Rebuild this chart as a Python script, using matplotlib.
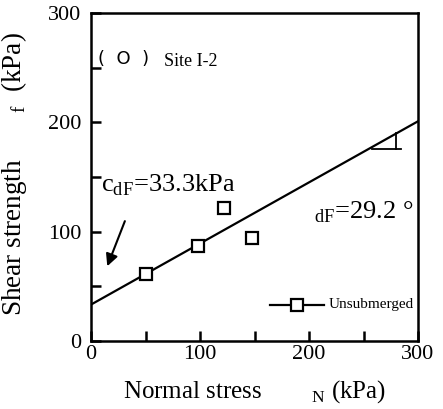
import numpy as np
import matplotlib
matplotlib.use("Agg")
import matplotlib.pyplot as plt
from matplotlib.ticker import MultipleLocator

plt.rcParams['font.family'] = ['Liberation Serif', 'DejaVu Serif']
plt.rcParams['mathtext.fontset'] = 'custom'
plt.rcParams['mathtext.rm'] = 'Liberation Serif'

# data
normal_stress = [50, 98, 122, 148]
shear_strength = [61, 87, 122, 94]
cohesion = 33.3
friction_angle = 29.2
fit_x = [0, 300]
series_label = "Unsubmerged"
xticks = [0, 100, 200, 300]
yticks = [0, 100, 200, 300]

fig = plt.figure(figsize=(4.43, 4.09), dpi=100)
ax = fig.add_axes([91/443, 1-341/409, (418-91)/443, (341-13)/409])

fit_y = [cohesion + np.tan(np.radians(friction_angle)) * x for x in fit_x]
ax.plot(fit_x, fit_y, color='black', lw=1.6, zorder=2)
ax.plot(normal_stress, shear_strength, ls='none', marker='s', ms=8,
        mfc='white', mec='black', mew=1.6, zorder=3)

# slope triangle
ax.plot([258, 284], [176, 176], color='black', lw=1.3)
ax.plot([280, 280], [176, 190], color='black', lw=1.3)

ax.set_xlim(0, 300)
ax.set_ylim(0, 300)
ax.xaxis.set_minor_locator(MultipleLocator(50))
ax.yaxis.set_minor_locator(MultipleLocator(50))
ax.tick_params(which='both', direction='in', width=1.8, top=False, right=False)
ax.tick_params(which='major', length=7)
ax.tick_params(which='minor', length=7)
ax.set_xticks(xticks)
ax.set_yticks(yticks)
ax.set_xticklabels([str(t) for t in xticks], fontsize=16)
ax.set_yticklabels([str(t) for t in yticks], fontsize=16)
ax.tick_params(axis='x', pad=3)
ax.tick_params(axis='y', pad=7)
for s in ax.spines.values():
    s.set_linewidth(1.8)

ax.set_xlabel(r"Normal stress        $_{\mathrm{N}}$ (kPa)", fontsize=18, labelpad=10)
ax.set_ylabel(r"Shear strength       $_{\mathrm{f}}$  (kPa)", fontsize=19.5)
ax.yaxis.set_label_coords(-0.19, 0.51)

ax.text(6, 258, "(  O  )", fontsize=13, family='DejaVu Sans', va='center')
ax.text(67, 256, "Site I-2", fontsize=13, va='center')

ax.text(9, 142, r"c$_{\mathrm{dF}}$=33.3kPa", fontsize=19, va='center')
ax.text(205, 118, r"$_{\mathrm{dF}}$=29.2 °", fontsize=19, va='center')

ax.annotate("", xy=(14, 66), xytext=(32, 112),
            arrowprops=dict(arrowstyle='-|>', color='black', lw=1.5,
                            mutation_scale=18))

# legend
ax.plot([164, 214], [33, 33], color='black', lw=1.6)
ax.plot([189], [33], marker='s', ms=8, mfc='white', mec='black', mew=1.6)
ax.text(218, 33, series_label, fontsize=11, va='center')

fig.savefig("out.png", dpi=100)
